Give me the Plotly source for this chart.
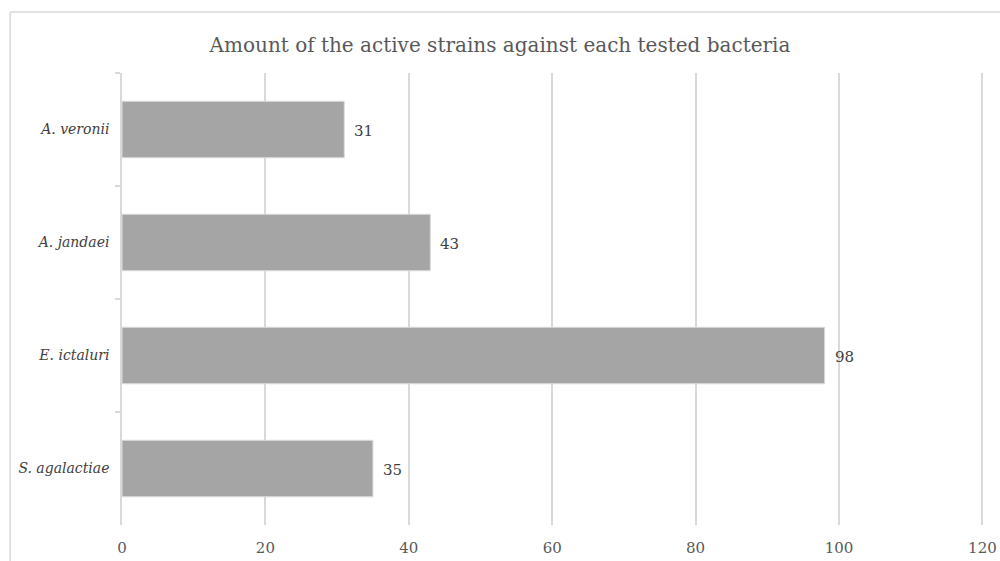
import plotly.graph_objects as go

# Tested bacteria and the number of active strains against each
bacteria = ["A. veronii", "A. jandaei", "E. ictaluri", "S. agalactiae"]
active_strains = [31, 43, 98, 35]
x_ticks = [0, 20, 40, 60, 80, 100, 120]

serif = "Georgia, 'DejaVu Serif', serif"
grid = "#d9d9d9"
text_col = "#595959"

fig = go.Figure(
    go.Bar(
        x=active_strains,
        y=bacteria,
        orientation="h",
        width=0.5,
        marker=dict(color="#a5a5a5", line=dict(color="#dcdcdc", width=1)),
        hoverinfo="skip",
    )
)

# value labels next to each bar
for name, val in zip(bacteria, active_strains):
    fig.add_annotation(
        x=val, y=name, text=str(val), showarrow=False,
        xanchor="left", xshift=8, yshift=-1,
        font=dict(family=serif, size=15, color="#404040"),
    )

# outer frame of the chart (left and top edges)
fig.add_shape(type="line", xref="paper", yref="paper",
              x0=-0.1295, x1=-0.1295, y0=-0.1, y1=1.135,
              line=dict(color=grid, width=1.5))
fig.add_shape(type="line", xref="paper", yref="paper",
              x0=-0.1295, x1=1.05, y0=1.135, y1=1.135,
              line=dict(color=grid, width=1.5))

fig.update_layout(
    width=1000,
    height=561,
    margin=dict(l=122, r=14, t=73, b=36),
    paper_bgcolor="white",
    plot_bgcolor="white",
    showlegend=False,
    title=dict(
        text="Amount of the active strains against each tested bacteria",
        x=0.5, xanchor="center", y=0.92, yanchor="middle",
        font=dict(family=serif, size=20, color=text_col),
    ),
    xaxis=dict(
        range=[0, 120.5],
        tickvals=x_ticks,
        automargin=False,
        showgrid=True, gridcolor=grid, gridwidth=1.5,
        zeroline=False, showline=False,
        ticks="outside", ticklen=9, tickcolor="rgba(0,0,0,0)",
        tickfont=dict(family=serif, size=15, color=text_col),
    ),
    yaxis=dict(
        categoryorder="array", categoryarray=bacteria,
        autorange="reversed",
        automargin=False,
        showgrid=False, zeroline=False,
        showline=True, linecolor=grid, linewidth=1.5,
        ticks="outside", ticklen=5, tickcolor=grid, tickwidth=1.5,
        tickson="boundaries",
        ticklabelstandoff=8,
        tickfont=dict(family=serif, size=14, color="#404040", style="italic"),
    ),
    bargap=0.5,
)

fig.write_html("out.html")
